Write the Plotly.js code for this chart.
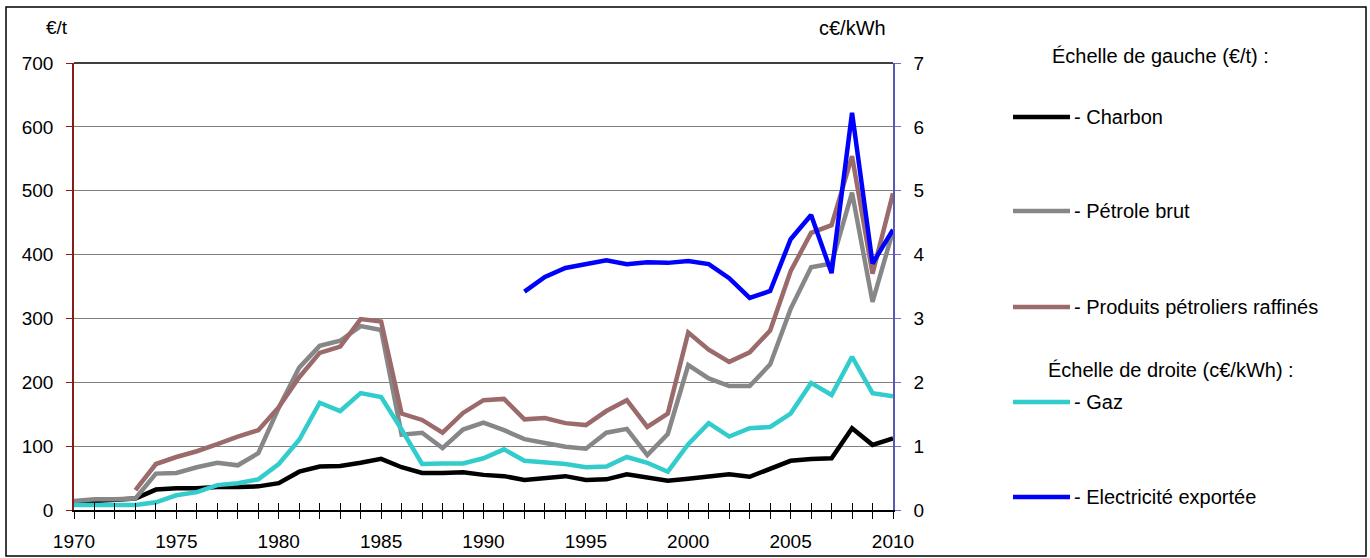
<!DOCTYPE html>
<html>
<head>
<meta charset="utf-8">
<script src="https://cdn.plot.ly/plotly-3.0.1.min.js"></script>
<style>
  html, body { margin: 0; padding: 0; background: #fff; }
  #chart { width: 1370px; height: 558px; }
</style>
</head>
<body>
<div id="chart"></div>
<script>
const years = [1970,1971,1972,1973,1974,1975,1976,1977,1978,1979,
               1980,1981,1982,1983,1984,1985,1986,1987,1988,1989,
               1990,1991,1992,1993,1994,1995,1996,1997,1998,1999,
               2000,2001,2002,2003,2004,2005,2006,2007,2008,2009,2010];

// Left scale (€/t)
const charbon = [12,14,15,18,32,34,34,36,36,37,
                 42,60,68,69,74,80,67,58,58,59,
                 55,53,47,50,53,47,48,56,51,46,
                 49,53,56,52,65,77,80,81,128,102,112];
const petroleBrut = [14,17,17,18,57,58,67,74,70,89,
                     160,223,257,265,288,282,118,121,97,126,
                     137,125,111,105,99,96,121,127,86,119,
                     227,206,194,194,228,315,380,386,497,326,437];
const produitsRaffines = [null,null,null,31,72,83,92,103,115,125,
                          161,208,246,256,299,295,151,141,121,152,
                          172,174,142,144,136,133,155,172,130,151,
                          278,251,232,247,281,374,434,446,554,370,496];
// Right scale (c€/kWh)
const gaz = [0.08,0.08,0.08,0.08,0.12,0.23,0.28,0.39,0.42,0.48,
             0.72,1.10,1.68,1.55,1.83,1.77,1.26,0.72,0.73,0.73,
             0.81,0.95,0.77,0.75,0.72,0.67,0.68,0.83,0.74,0.60,
             1.03,1.36,1.15,1.28,1.30,1.51,1.99,1.80,2.40,1.83,1.78];
const electricite = [null,null,null,null,null,null,null,null,null,null,
                     null,null,null,null,null,null,null,null,null,null,
                     null,null,3.42,3.65,3.79,3.85,3.91,3.85,3.88,3.87,
                     3.90,3.85,3.63,3.32,3.43,4.24,4.62,3.71,6.22,3.86,4.39];

const seriesNames = ['- Charbon','- Pétrole brut','- Produits pétroliers raffinés','- Gaz','- Electricité exportée'];
const seriesColors = ['#000000','#878787','#9b6a6a','#33cccc','#0000ff'];
const leftTicks = [0,100,200,300,400,500,600,700];
const rightTicks = [0,1,2,3,4,5,6,7];
const xLabelYears = [1970,1975,1980,1985,1990,1995,2000,2005,2010];

const FONT = '"Liberation Sans", Arial, sans-serif';
const FS = 19;
const LFS = 20;

// Pixel geometry of the plot area
const W = 1370, H = 558;
const L = 74, R = 893, T = 63, B = 510;
const pw = R - L, ph = B - T;
const px = x => (x - L) / pw;
const py = y => (B - y) / ph;

const LW = 4.5;
const data = [
  {x: years, y: charbon, name: seriesNames[0], yaxis: 'y', line: {color: seriesColors[0], width: LW}},
  {x: years, y: petroleBrut, name: seriesNames[1], yaxis: 'y', line: {color: seriesColors[1], width: LW}},
  {x: years, y: produitsRaffines, name: seriesNames[2], yaxis: 'y', line: {color: seriesColors[2], width: LW}},
  {x: years, y: gaz, name: seriesNames[3], yaxis: 'y2', line: {color: seriesColors[3], width: LW}},
  {x: years, y: electricite, name: seriesNames[4], yaxis: 'y2', line: {color: seriesColors[4], width: LW}}
].map(t => Object.assign({type: 'scatter', mode: 'lines', hoverinfo: 'x+y+name', showlegend: false, connectgaps: false}, t));

// dummy trace for secondary x axis (inside ticks)
data.push({x: [1970, 2010], y: [null, null], xaxis: 'x2', yaxis: 'y', mode: 'lines', showlegend: false, hoverinfo: 'skip'});

const shapes = [];
const annotations = [];

// Outer border
shapes.push({type: 'rect', xref: 'paper', yref: 'paper',
  x0: px(6), x1: px(1366), y0: py(556), y1: py(7),
  line: {color: '#000', width: 1.5}, fillcolor: 'rgba(0,0,0,0)', layer: 'below'});
// plot top border
shapes.push({type: 'line', xref: 'paper', yref: 'paper', x0: 0, x1: 1, y0: 1, y1: 1,
  line: {color: '#000', width: 1.5}});

// Axis unit titles
annotations.push({xref: 'paper', yref: 'paper', x: px(44), y: py(28), xanchor: 'left', yanchor: 'middle',
  text: '€/t', showarrow: false, font: {family: FONT, size: FS, color: '#000'}});
annotations.push({xref: 'paper', yref: 'paper', x: px(888), y: py(28), xanchor: 'right', yanchor: 'middle',
  text: 'c€/kWh', showarrow: false, font: {family: FONT, size: LFS, color: '#000'}});

// Legend (manual)
const legendHeaders = ['Échelle de gauche (€/t) :', 'Échelle de droite (c€/kWh) :'];
const headerPos = [[1160, 56], [1171, 370]];
legendHeaders.forEach((t, i) => {
  annotations.push({xref: 'paper', yref: 'paper', x: px(headerPos[i][0]), y: py(headerPos[i][1]),
    xanchor: 'center', yanchor: 'middle', text: t, showarrow: false,
    font: {family: FONT, size: LFS, color: '#000'}});
});
const legendY = [117, 211, 307, 402, 497];
seriesNames.forEach((n, i) => {
  shapes.push({type: 'line', xref: 'paper', yref: 'paper',
    x0: px(1013), x1: px(1070), y0: py(legendY[i]), y1: py(legendY[i]),
    line: {color: seriesColors[i], width: 4.5}});
  annotations.push({xref: 'paper', yref: 'paper', x: px(1072), y: py(legendY[i]),
    xanchor: 'left', yanchor: 'middle', text: n, showarrow: false,
    font: {family: FONT, size: LFS, color: '#000'}});
});

const layout = {
  width: W, height: H,
  margin: {l: L, r: W - R, t: T, b: H - B, pad: 0},
  paper_bgcolor: '#fff', plot_bgcolor: '#fff',
  font: {family: FONT, size: FS, color: '#000'},
  showlegend: false,
  xaxis: {
    range: [1970, 2010], tickmode: 'array', tickvals: years,
    ticktext: years.map(y => xLabelYears.includes(y) ? String(y) : ''),
    ticks: 'outside', ticklen: 7, tickwidth: 1, tickcolor: '#000',
    showline: true, linecolor: '#000', linewidth: 1.5,
    showgrid: false, zeroline: false, fixedrange: true,
    tickfont: {family: FONT, size: FS, color: '#000'}, ticklabelstandoff: 6
  },
  xaxis2: {
    overlaying: 'x', anchor: 'y', range: [1970, 2010], tickmode: 'array', tickvals: years,
    ticks: 'inside', ticklen: 7, tickwidth: 1, tickcolor: '#000',
    showticklabels: false, showgrid: false, zeroline: false, showline: false, fixedrange: true
  },
  yaxis: {
    range: [0, 700], tickmode: 'array', tickvals: leftTicks,
    ticks: 'outside', ticklen: 6, tickwidth: 1, tickcolor: '#8b1a1a',
    showline: true, linecolor: '#8b1a1a', linewidth: 1.5,
    showgrid: true, gridcolor: '#808080', gridwidth: 1, zeroline: false, fixedrange: true,
    tickfont: {family: FONT, size: FS, color: '#000'}, ticklabelstandoff: 9
  },
  yaxis2: {
    range: [0, 7], overlaying: 'y', side: 'right', tickmode: 'array', tickvals: rightTicks,
    ticks: 'outside', ticklen: 6, tickwidth: 1, tickcolor: '#6b6bd6',
    showline: true, linecolor: '#5a5ab4', linewidth: 1.5,
    showgrid: false, zeroline: false, fixedrange: true,
    tickfont: {family: FONT, size: FS, color: '#000'}, ticklabelstandoff: 9
  },
  shapes: shapes,
  annotations: annotations
};

Plotly.newPlot('chart', data, layout, {displayModeBar: false, responsive: false});
</script>
</body>
</html>
